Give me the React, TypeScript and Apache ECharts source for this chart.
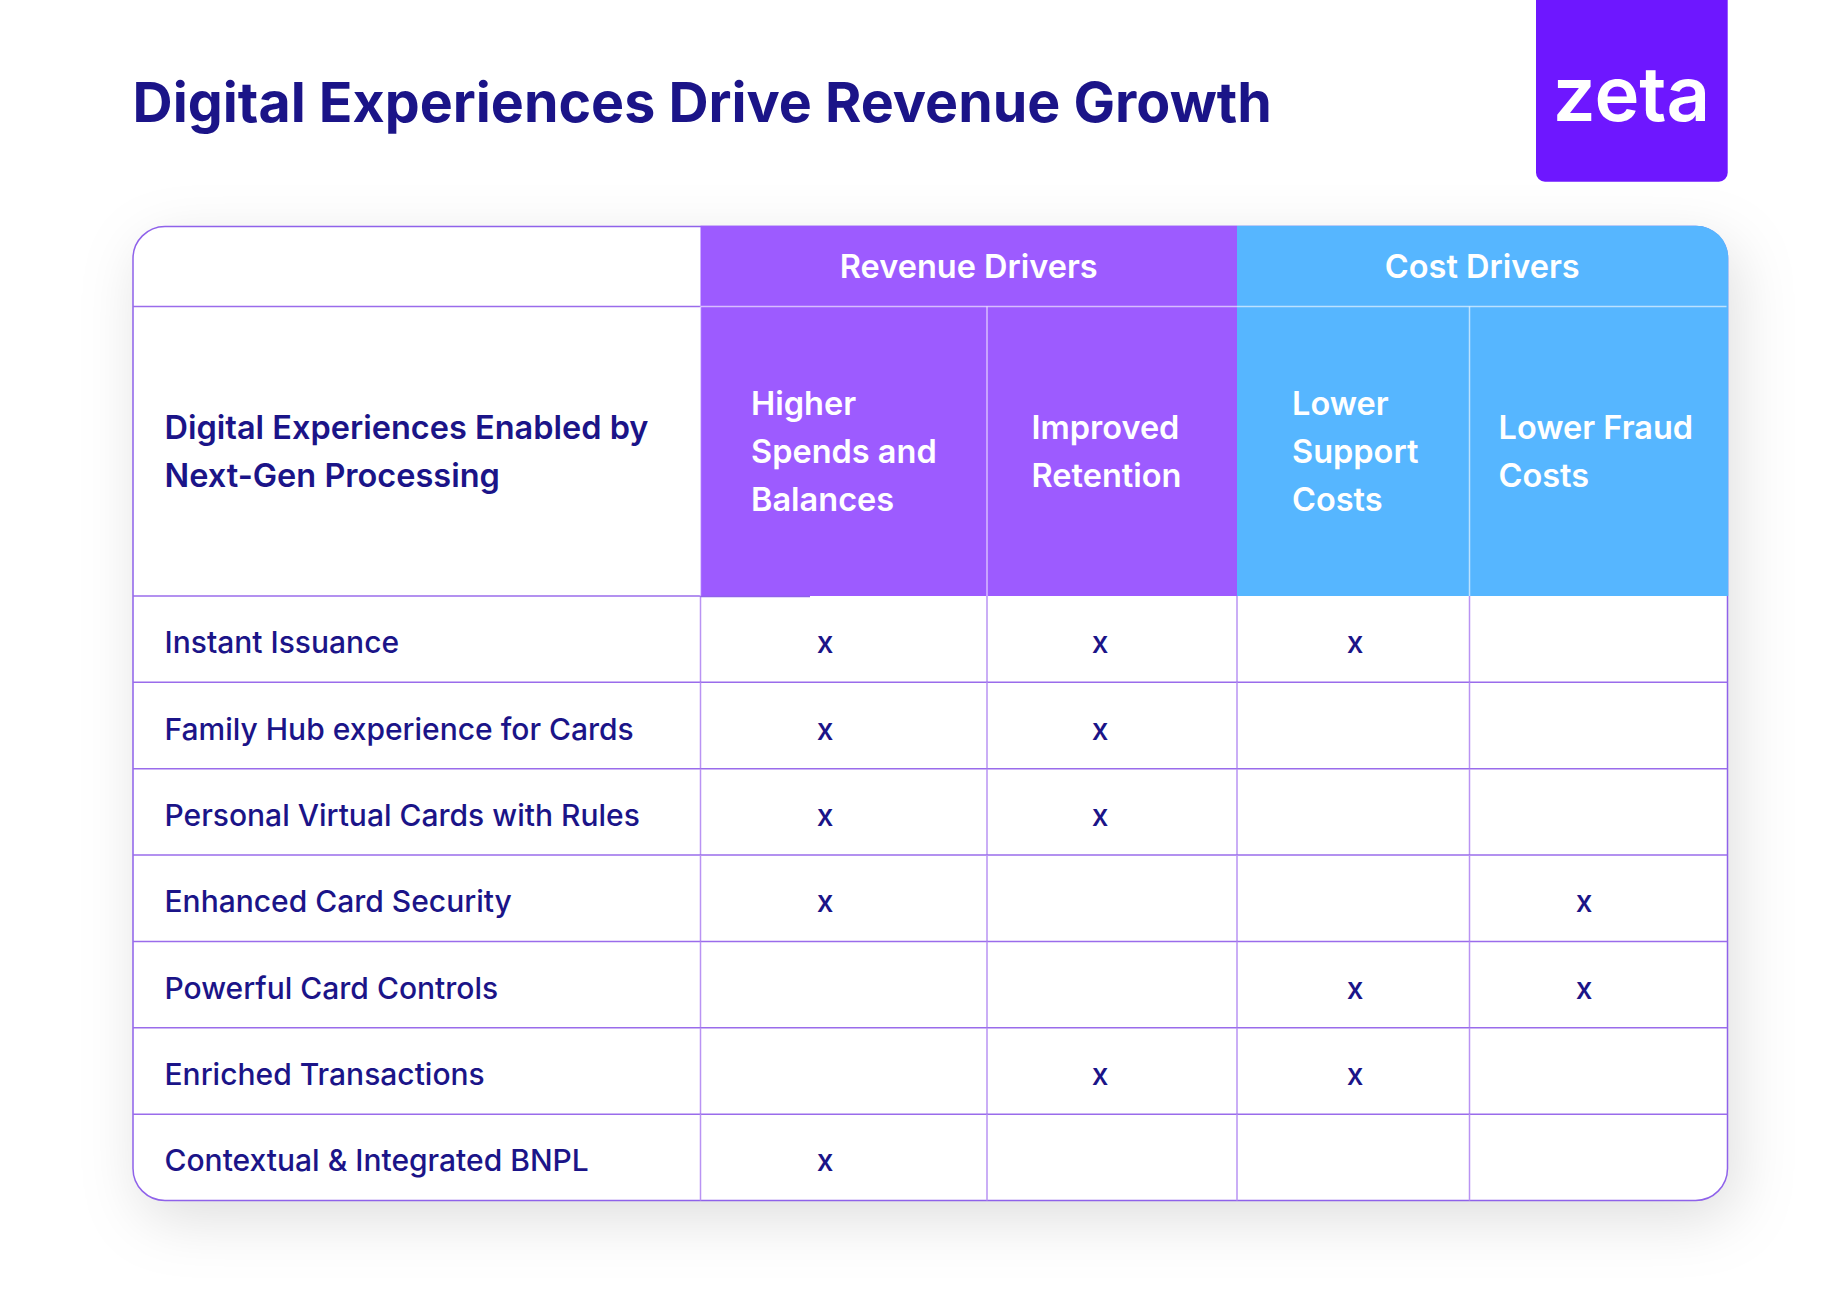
import React, { useEffect, useRef } from "react";
import * as echarts from "echarts";

// ---------- data ----------
const TITLE = "Digital Experiences Drive Revenue Growth";
const BRAND = "zeta";
const ROW_HEADER = "Digital Experiences Enabled by\nNext-Gen Processing";
const GROUPS = ["Revenue Drivers", "Cost Drivers"];
const DRIVERS = [
  "Higher\nSpends and\nBalances",
  "Improved\nRetention",
  "Lower\nSupport\nCosts",
  "Lower Fraud\nCosts",
];
const EXPERIENCES = [
  "Instant Issuance",
  "Family Hub experience for Cards",
  "Personal Virtual Cards with Rules",
  "Enhanced Card Security",
  "Powerful Card Controls",
  "Enriched Transactions",
  "Contextual & Integrated BNPL",
];
// 1 = driver applies to the experience (columns follow DRIVERS)
const MARKS = [
  [1, 1, 1, 0],
  [1, 1, 0, 0],
  [1, 1, 0, 0],
  [1, 0, 0, 1],
  [0, 0, 1, 1],
  [0, 1, 1, 0],
  [1, 0, 0, 0],
];
const MARK_TEXT = "x";

// ---------- layout / style ----------
const W = 1840;
const H = 1310;
const L = 133;
const T = 226.5;
const R = 1727.5;
const B = 1200.5;
const H1 = 306.5;
const H2 = 596;
const COL_EDGES = [700.5, 987, 1237, 1469.5];
const MARK_X = [825, 1100, 1355, 1584];
const HEAD_X = [751, 1031.5, 1292, 1498.5];
const RAD = 32;
const NAVY = "#1B1488";
const PURPLE = "#9D5BFF";
const BLUE = "#56B6FF";
const LOGO = "#6E17FF";
const LINE = "#9A6CEB";
const VLINE = "#B993F3";
const FONT = "Inter, 'Noto Sans', sans-serif";

export default function App() {
  const ref = useRef<HTMLDivElement>(null);

  useEffect(() => {
    document.body.style.margin = "0";
    if (!ref.current) return;
    const chart = echarts.init(ref.current, null, { renderer: "svg" });

    const markData: any[] = [];
    MARKS.forEach((row, r) =>
      row.forEach((v, c) => {
        if (v) markData.push([c, r]);
      })
    );

    const headerText = (text: string, x: number, y: number, align: string, fill: string, weight = 600, size = 32.5) => ({
      type: "text",
      x,
      y,
      z: 20,
      style: {
        text,
        fill,
        fontFamily: FONT,
        fontWeight: weight,
        fontSize: size,
        lineHeight: 48,
        align,
        verticalAlign: "middle",
      },
    });

    const line = (x1: number, y1: number, x2: number, y2: number, stroke: string, z = 15, w = 1.5) => ({
      type: "line",
      z,
      shape: { x1, y1, x2, y2 },
      style: { stroke, lineWidth: w },
    });

    const graphics: any[] = [
      // title
      {
        type: "text",
        x: 132.6,
        y: 101.3,
        z: 20,
        style: {
          text: TITLE,
          fill: NAVY,
          fontFamily: FONT,
          fontWeight: 700,
          fontSize: 55.5,
          align: "left",
          verticalAlign: "middle",
        },
      },
      // logo
      {
        type: "rect",
        z: 10,
        shape: { x: 1536, y: -12, width: 191.7, height: 193.7, r: [0, 0, 9, 9] },
        style: { fill: LOGO },
      },
      {
        type: "text",
        x: 1631.5,
        y: 92.5,
        z: 20,
        style: {
          text: BRAND,
          fill: "#ffffff",
          fontFamily: FONT,
          fontWeight: 600,
          fontSize: 76,
          align: "center",
          verticalAlign: "middle",
        },
      },
      // card with shadow
      {
        type: "rect",
        z: 1,
        shape: { x: L, y: T, width: R - L, height: B - T, r: RAD },
        style: {
          fill: "#ffffff",
          shadowBlur: 60,
          shadowOffsetX: 8,
          shadowOffsetY: 18,
          shadowColor: "rgba(0,0,0,0.13)",
        },
      },
      {
        type: "rect",
        z: 2,
        shape: { x: L, y: T, width: R - L, height: B - T, r: RAD },
        style: { fill: "none", stroke: "#8F62EA", lineWidth: 1.5 },
      },
      // header fills
      {
        type: "rect",
        z: 5,
        shape: { x: COL_EDGES[0], y: T - 0.8, width: COL_EDGES[2] - COL_EDGES[0], height: H2 - T + 0.8 },
        style: { fill: PURPLE },
      },
      {
        type: "rect",
        z: 5,
        shape: { x: COL_EDGES[2], y: T - 0.8, width: R - COL_EDGES[2] + 0.8, height: H2 - T + 0.8, r: [0, RAD, 0, 0] },
        style: { fill: BLUE },
      },
      // header lines
      line(COL_EDGES[0], H1, R - 1, H1, "rgba(255,255,255,0.6)"),
      line(COL_EDGES[1], H1, COL_EDGES[1], H2, "rgba(255,255,255,0.6)"),
      line(COL_EDGES[3], H1, COL_EDGES[3], H2, "rgba(255,255,255,0.6)"),
      line(L, H1, COL_EDGES[0], H1, LINE),
      line(L, H2, COL_EDGES[0], H2, LINE),
      line(COL_EDGES[0], H2 + 0.5, 810, H2 + 0.5, "#8F62EA", 16),
      line(COL_EDGES[0], H1, COL_EDGES[0], H2, "rgba(255,255,255,0.4)"),
      // header texts
      headerText(ROW_HEADER, 164.5, 451, "left", NAVY),
      headerText(GROUPS[0], (COL_EDGES[0] + COL_EDGES[2]) / 2, 266, "center", "#ffffff"),
      headerText(GROUPS[1], (COL_EDGES[2] + R) / 2, 266, "center", "#ffffff"),
      ...DRIVERS.map((d, i) => headerText(d, HEAD_X[i], 451, "left", "#ffffff")),
    ];

    const option: any = {
      animation: false,
      backgroundColor: "#ffffff",
      grid: { left: 0, top: H2, width: W, height: B - H2 },
      xAxis: { type: "value", min: 0, max: W, show: false },
      yAxis: {
        type: "category",
        data: EXPERIENCES,
        inverse: true,
        show: false,
      },
      graphic: { elements: graphics },
      series: [
        {
          type: "custom",
          name: "rows",
          z: 10,
          data: EXPERIENCES.map((e) => [0, e]),
          renderItem: (params: any, api: any) => {
            const r = api.value(1);
            const c = api.coord([0, r]);
            const h = api.size([0, 1])[1];
            const top = c[1] - h / 2;
            const bot = c[1] + h / 2;
            const children: any[] = [
              {
                type: "text",
                x: 164.5,
                y: c[1] + 3,
                style: {
                  text: EXPERIENCES[r],
                  fill: NAVY,
                  fontFamily: FONT,
                  fontWeight: 500,
                  fontSize: 30,
                  align: "left",
                  verticalAlign: "middle",
                },
              },
            ];
            COL_EDGES.forEach((x) =>
              children.push({
                type: "line",
                shape: { x1: x, y1: top, x2: x, y2: bot },
                style: { stroke: VLINE, lineWidth: 1.5 },
              })
            );
            if (r < EXPERIENCES.length - 1) {
              children.push({
                type: "line",
                shape: { x1: L, y1: bot, x2: R, y2: bot },
                style: { stroke: LINE, lineWidth: 1.5 },
              });
            }
            return { type: "group", children };
          },
        },
        {
          type: "custom",
          name: "marks",
          z: 11,
          data: markData,
          renderItem: (params: any, api: any) => {
            const col = api.value(0);
            const r = api.value(1);
            const c = api.coord([0, r]);
            return {
              type: "text",
              x: MARK_X[col],
              y: c[1] + 3,
              style: {
                text: MARK_TEXT,
                fill: NAVY,
                fontFamily: FONT,
                fontWeight: 500,
                fontSize: 30,
                align: "center",
                verticalAlign: "middle",
              },
            };
          },
        },
      ],
    };

    chart.setOption(option);
    return () => chart.dispose();
  }, []);

  return <div ref={ref} style={{ width: W, height: H }} />;
}
